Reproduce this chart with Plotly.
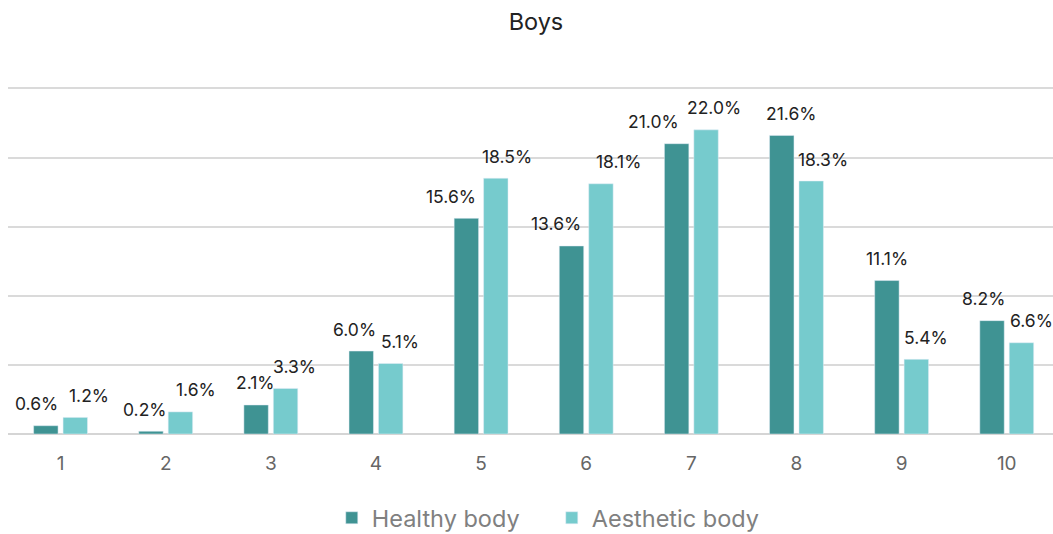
import plotly.graph_objects as go

categories = ["1", "2", "3", "4", "5", "6", "7", "8", "9", "10"]
healthy = [0.6, 0.2, 2.1, 6.0, 15.6, 13.6, 21.0, 21.6, 11.1, 8.2]
aesthetic = [1.2, 1.6, 3.3, 5.1, 18.5, 18.1, 22.0, 18.3, 5.4, 6.6]
y_ticks = [0, 5, 10, 15, 20, 25]

# label nudges (pixels, style only)
healthy_dx = [-24, -21, -15, -21, -30, -30, -38, -5, -15, -23]
aesthetic_dx = [28, 30, 24, 24, 26, 32, 23, 27, 24, 25]

DARK = "#3f9393"
LIGHT = "#76cbcd"
FONT = "Inter"

fig = go.Figure()
fig.add_trace(go.Bar(x=categories, y=healthy, name="Healthy body", marker_color=DARK))
fig.add_trace(go.Bar(x=categories, y=aesthetic, name="Aesthetic body", marker_color=LIGHT))

for vals, dxs in ((healthy, healthy_dx), (aesthetic, aesthetic_dx)):
    for i, (v, dx) in enumerate(zip(vals, dxs)):
        fig.add_annotation(
            x=i, y=v, xref="x", yref="y", text=f"{v:.1f}%", showarrow=False,
            xanchor="center", yanchor="middle", xshift=dx, yshift=22,
            font=dict(size=17.5, color="#222222", family=FONT),
        )

fig.update_layout(
    width=1053, height=534,
    margin=dict(l=8, r=0, t=87, b=100),
    paper_bgcolor="white", plot_bgcolor="white",
    font=dict(family=FONT, color="#595959"),
    title=dict(text="Boys", x=0.509, xanchor="center", y=0.959, yanchor="middle",
               font=dict(size=23.5, color="#222222", family=FONT)),
    barmode="group", bargap=0.44, bargroupgap=0.17,
    showlegend=True,
    legend=dict(orientation="h", xref="container", yref="container",
                x=0.524, xanchor="center", y=0.03, yanchor="middle",
                font=dict(size=23.5, color="#808080", family=FONT),
                itemwidth=30, tracegroupgap=0, entrywidth=175),
)
fig.update_xaxes(
    range=[-0.5, 9.44],
    showgrid=False, showline=False, ticks="",
    tickfont=dict(size=19, color="#666666", family=FONT),
    ticklabelstandoff=16,
)
fig.update_yaxes(
    range=[0, 25.1], tickvals=y_ticks, showticklabels=False,
    showgrid=True, gridcolor="#dadada", gridwidth=1.5,
    zeroline=True, zerolinecolor="#d5d5d5", zerolinewidth=1.5,
    showline=False,
)

fig.write_html("out.html", config={"displayModeBar": False},
               post_script="document.body.style.margin='0';")
